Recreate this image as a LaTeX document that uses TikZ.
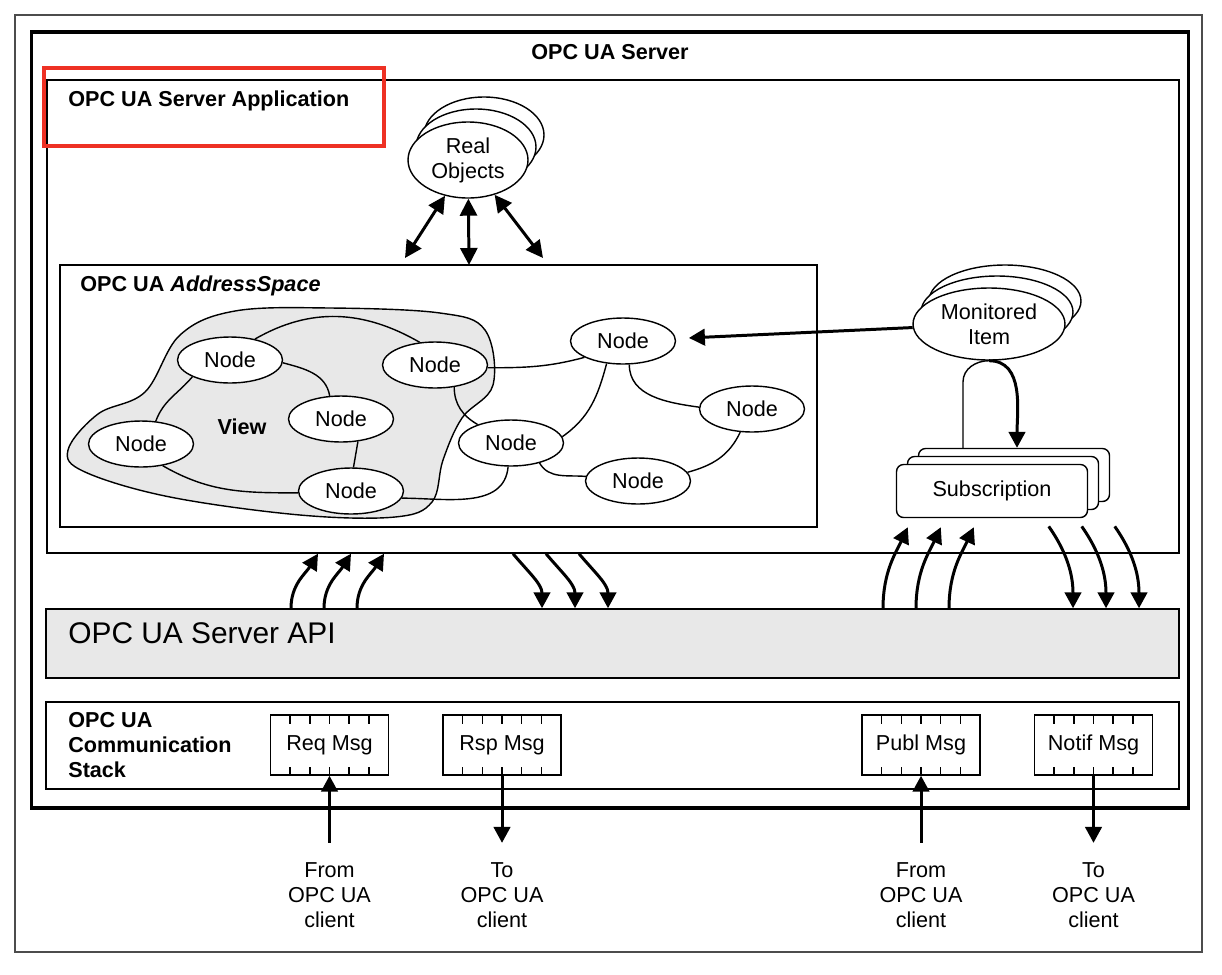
\documentclass[tikz,border=0pt]{standalone}
\usepackage{fontspec}
\setmainfont{Liberation Sans}
\usepackage{xcolor}
\usetikzlibrary{arrows.meta,positioning,shapes.geometric}

\definecolor{markred}{HTML}{EE3124}
\definecolor{panelgray}{HTML}{E8E8E8}

\begin{document}
\begin{tikzpicture}[
    x=0.02cm, y=-0.02cm,
    font=\fontsize{12.3}{14.2}\selectfont,
    panel/.style={draw, line width=0.85pt, inner sep=0pt},
    titletext/.style={font=\fontsize{12.3}{14.2}\selectfont\bfseries, inner sep=0pt},
    uanode/.style={draw, ellipse, fill=white, line width=0.8pt, minimum width=2.1cm, minimum height=0.92cm, inner sep=0pt},
    stackell/.style={draw, ellipse, fill=white, line width=0.8pt, inner sep=0pt, align=center},
    subbox/.style={draw, rounded corners=4pt, fill=white, line width=0.8pt, minimum width=3.82cm, minimum height=1.06cm},
    msgbox/.style={draw, line width=0.8pt, minimum width=2.36cm, minimum height=1.2cm, inner sep=0pt,
        path picture={\foreach \k in {1,...,5}{
            \draw[line width=0.9pt] ([xshift=\k*0.3933cm]path picture bounding box.north west) -- +(0pt,-0.17cm);
            \draw[line width=0.9pt] ([xshift=\k*0.3933cm]path picture bounding box.south west) -- +(0pt,0.17cm);}}},
    edgeline/.style={line width=0.8pt},
    arrow/.style={-{Triangle[length=0.32cm, width=0.33cm]}, line width=1.7pt},
    biarrow/.style={{Triangle[length=0.34cm, width=0.34cm]}-{Triangle[length=0.34cm, width=0.34cm]}, line width=1.7pt},
    clientlbl/.style={align=center, inner xsep=0pt, inner ysep=11pt}
]
\useasboundingbox (0,0) rectangle (1222,974);

% frames
\draw[black!70, line width=0.7pt] (15,15) rectangle (1202,952);
\node[panel, line width=1.8pt, minimum width=23.16cm, minimum height=15.52cm] (server) at (610,420) {};
\node[titletext] (servertitle) at (610,52) {OPC UA Server};

\node[panel, minimum width=22.64cm, minimum height=9.46cm] (app) at (613,316.5) {};
\node[titletext, anchor=west] (apptitle) at (68,101) {OPC UA Server Application};
\node[draw=markred, line width=2.2pt, minimum width=6.8cm, minimum height=1.56cm] (mark) at (214,107) {};

\node[panel, minimum width=15.14cm, minimum height=5.24cm] (as) at (438.5,396) {};
\node[titletext, anchor=west] (astitle) at (80,286) {OPC UA \textit{AddressSpace}};

\node[panel, fill=panelgray, minimum width=22.66cm, minimum height=1.38cm] (api) at (612.5,643.5) {};
\node[anchor=west, inner sep=0pt, font=\fontsize{17}{20}\selectfont] (apitext) at (68,633) {OPC UA Server API};

\node[panel, minimum width=22.66cm, minimum height=1.74cm] (stack) at (612.5,745.5) {};
\node[titletext, anchor=west, align=left] (stacktitle) at (68,745) {OPC UA\\Communication\\Stack};

% view
\draw[edgeline, fill=panelgray] plot[smooth cycle, tension=0.6] coordinates {
    (68,450) (98,414) (145,392) (180,335) (235,311) (330,308) (440,313) (485,330)
    (493,385) (462,418) (443,460) (432,502) (395,517) (300,515) (170,497) (85,472)};
\node[titletext] (viewlbl) at (242,427) {View};

% address space nodes
\node[uanode] (n1) at (230,360) {Node};
\node[uanode] (n2) at (435,365) {Node};
\node[uanode] (n3) at (341,419) {Node};
\node[uanode] (n4) at (141,444) {Node};
\node[uanode] (n5) at (351,491) {Node};
\node[uanode] (n6) at (511,443) {Node};
\node[uanode] (n7) at (623,341) {Node};
\node[uanode] (n8) at (752,409) {Node};
\node[uanode] (n9) at (638,481) {Node};

\draw[edgeline] (n1.40) to[out=30, in=150] (n2.124);
\draw[edgeline] (n1.-3) to[out=-15, in=100] (n3.116);
\draw[edgeline] (n1.204) to[out=-130, in=70] (n4.57);
\draw[edgeline] (n3.-53) -- (n5.84);
\draw[edgeline] (n4.-45) to[out=-30, in=180] (n5.182);
\draw[edgeline] (n2.-3) to[out=0, in=195] (n7.203);
\draw[edgeline] (n2.-49) to[out=-90, in=150] (n6.151);
\draw[edgeline] (n7.-126) to[out=-105, in=35] (n6.7);
\draw[edgeline] (n7.-75) to[out=-90, in=172] (n8.178);
\draw[edgeline] (n8.-117) to[out=-115, in=15] (n9.10);
\draw[edgeline] (n6.-35) to[out=-60, in=175] (n9.175);
\draw[edgeline] (n5.-8) to[out=0, in=-95] (n6.-97);

% real objects
\node[stackell, minimum width=2.4cm, minimum height=1.52cm] (ro3) at (484,135) {};
\node[stackell, minimum width=2.4cm, minimum height=1.52cm] (ro2) at (476,147) {};
\node[stackell, minimum width=2.4cm, minimum height=1.52cm] (ro) at (468,160) {Real\\Objects};

\coordinate (rol) at (405,258);
\coordinate (rom) at (469,265);
\coordinate (ror) at (543,258);
\draw[biarrow] (rol) -- (ro);
\draw[biarrow] (rom) -- (ro);
\draw[biarrow] (ror) -- (ro);

% monitored item and subscription
\node[stackell, minimum width=3.04cm, minimum height=1.44cm] (mi3) at (1005,301) {};
\node[stackell, minimum width=3.04cm, minimum height=1.44cm] (mi2) at (997,312) {};
\node[stackell, minimum width=3.04cm, minimum height=1.44cm] (mi) at (989,324) {Monitored\\Item};

\node[subbox] (sub3) at (1014,475) {};
\node[subbox] (sub2) at (1003,483) {};
\node[subbox] (sub) at (992,491) {Subscription};

\draw[arrow, shorten >=0.26cm] (mi) -- (n7);
\draw[edgeline] ([xshift=-1.02cm]sub3.north) -- ++(0,-66) to[out=90, in=180] (mi.south);
\draw[arrow] (mi.south) to[out=0, in=90] ([xshift=0.06cm]sub3.north);

% api traffic
\foreach \a/\b in {291/318, 324/351, 357/384}
    \draw[arrow] (api.north -| \a,0) to[out=90, in=-122] (app.south -| \b,0);
\foreach \a/\b in {513/542, 546/575, 579/608}
    \draw[arrow] (app.south -| \a,0) to[out=-50, in=90] (api.north -| \b,0);
\foreach \a/\b in {883/912, 916/945, 949/978}
    \draw[arrow, shorten >=0.2cm] (api.north -| \a,0) to[out=90, in=-115] (sub.south -| \b,0);
\foreach \a/\b in {1043/1073, 1076/1106, 1109/1139}
    \draw[arrow, shorten <=0.2cm] (sub.south -| \a,0) to[out=-55, in=90] (api.north -| \b,0);

% messages
\node[msgbox] (req) at (329.5,745) {Req Msg};
\node[msgbox] (rsp) at (502,745) {Rsp Msg};
\node[msgbox] (publ) at (921,745) {Publ Msg};
\node[msgbox] (notif) at (1093.5,745) {Notif Msg};

\node[clientlbl] (reqc) at (329.5,895) {From\\OPC UA\\client};
\node[clientlbl] (rspc) at (502,895) {To\\OPC UA\\client};
\node[clientlbl] (publc) at (921,895) {From\\OPC UA\\client};
\node[clientlbl] (notifc) at (1093.5,895) {To\\OPC UA\\client};

\draw[arrow] (reqc) -- (req);
\draw[arrow] (rsp) -- (rspc);
\draw[arrow] (publc) -- (publ);
\draw[arrow] (notif) -- (notifc);
\end{tikzpicture}
\end{document}
